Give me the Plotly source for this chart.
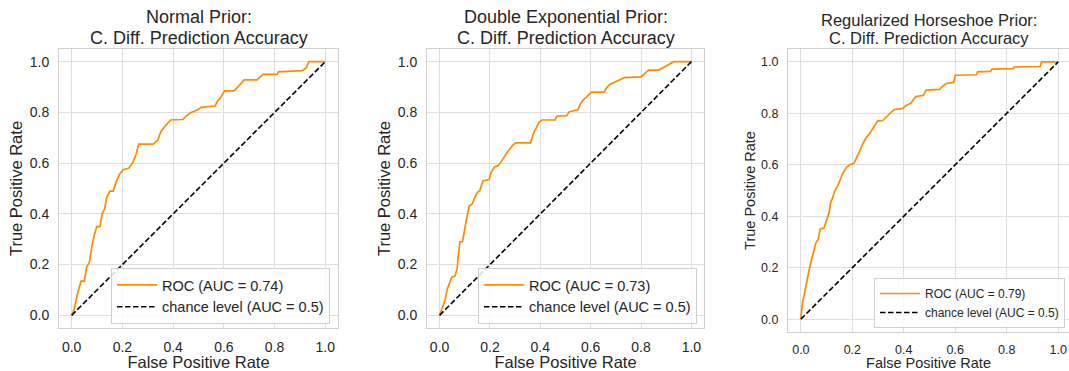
import plotly.graph_objects as go

# ---------------- data ----------------
fpr_normal = [0.0, 0.01, 0.024, 0.037, 0.05, 0.059, 0.07, 0.08, 0.09, 0.099, 0.112, 0.12, 0.13, 0.138,
              0.151, 0.164, 0.175, 0.188, 0.204, 0.225, 0.24, 0.254, 0.264, 0.322, 0.339, 0.352, 0.372,
              0.39, 0.438, 0.451, 0.471, 0.497, 0.51, 0.565, 0.575, 0.585, 0.603, 0.64, 0.655, 0.68,
              0.73, 0.755, 0.81, 0.815, 0.91, 0.925, 0.935, 1.0]
tpr_normal = [0.0, 0.025, 0.09, 0.135, 0.135, 0.19, 0.21, 0.275, 0.32, 0.35, 0.35, 0.40, 0.42, 0.465,
              0.49, 0.49, 0.525, 0.555, 0.575, 0.58, 0.60, 0.635, 0.675, 0.675, 0.69, 0.725, 0.75,
              0.77, 0.772, 0.785, 0.80, 0.81, 0.82, 0.825, 0.845, 0.855, 0.885, 0.885, 0.90, 0.928,
              0.928, 0.95, 0.95, 0.96, 0.965, 0.975, 1.0, 1.0]

fpr_dexp = [0.0, 0.009, 0.022, 0.031, 0.039, 0.048, 0.061, 0.07, 0.074, 0.081, 0.091, 0.098, 0.107,
            0.117, 0.13, 0.14, 0.15, 0.159, 0.172, 0.196, 0.205, 0.218, 0.232, 0.244, 0.257, 0.27,
            0.29, 0.302, 0.361, 0.367, 0.374, 0.387, 0.394, 0.407, 0.459, 0.465, 0.505, 0.515, 0.55,
            0.557, 0.57, 0.583, 0.603, 0.653, 0.662, 0.675, 0.695, 0.72, 0.734, 0.80, 0.807, 0.83,
            0.87, 0.886, 0.91, 0.93, 1.0]
tpr_dexp = [0.0, 0.025, 0.06, 0.105, 0.125, 0.15, 0.155, 0.185, 0.235, 0.29, 0.29, 0.335, 0.38,
            0.43, 0.44, 0.465, 0.485, 0.49, 0.53, 0.535, 0.565, 0.585, 0.59, 0.605, 0.625, 0.645,
            0.67, 0.68, 0.68, 0.70, 0.72, 0.745, 0.76, 0.77, 0.77, 0.785, 0.787, 0.803, 0.81,
            0.83, 0.85, 0.86, 0.88, 0.88, 0.895, 0.91, 0.92, 0.93, 0.937, 0.94, 0.947, 0.967,
            0.967, 0.976, 0.987, 1.0, 1.0]

fpr_hs = [0.0, 0.006, 0.013, 0.019, 0.026, 0.032, 0.041, 0.049, 0.058, 0.067, 0.075, 0.09, 0.1,
          0.11, 0.116, 0.123, 0.132, 0.142, 0.152, 0.162, 0.177, 0.19, 0.206, 0.214, 0.227, 0.24,
          0.253, 0.266, 0.279, 0.298, 0.318, 0.331, 0.35, 0.363, 0.395, 0.408, 0.428, 0.447, 0.476,
          0.487, 0.54, 0.548, 0.565, 0.594, 0.6, 0.682, 0.687, 0.737, 0.743, 0.826, 0.828, 0.93,
          0.935, 1.0]
tpr_hs = [0.0, 0.063, 0.095, 0.128, 0.16, 0.19, 0.23, 0.265, 0.295, 0.31, 0.35, 0.355, 0.39,
          0.415, 0.455, 0.47, 0.50, 0.515, 0.54, 0.565, 0.59, 0.60, 0.605, 0.625, 0.65, 0.68,
          0.705, 0.72, 0.74, 0.77, 0.772, 0.785, 0.80, 0.815, 0.818, 0.83, 0.84, 0.865, 0.87,
          0.89, 0.893, 0.903, 0.916, 0.92, 0.948, 0.95, 0.961, 0.963, 0.972, 0.974, 0.98, 0.982,
          1.0, 1.0]

chance = [0.0, 1.0]
auc_values = [0.74, 0.73, 0.79]
title_line1 = ["Normal Prior:", "Double Exponential Prior:", "Regularized Horseshoe Prior:"]
title_line2 = ["C. Diff. Prediction Accuracy"] * 3
tick_vals = [0.0, 0.2, 0.4, 0.6, 0.8, 1.0]
tick_text = ["0.0", "0.2", "0.4", "0.6", "0.8", "1.0"]

# ---------------- layout geometry ----------------
OFF = 0  # page margin is removed by the post script below
W, H = 1069 - OFF, 371 - OFF
FONT = "Liberation Sans, Arial, sans-serif"
TXT = "#262626"
GRID = "#dedede"
ORANGE = "#ff8c00"


def px(x):
    return (x - OFF) / W


def py(y):
    return 1 - (y - OFF) / H


panels = [
    dict(fpr=fpr_normal, tpr=tpr_normal, xdom=(59, 338), ydom=(49, 328), xr=[-0.05, 1.05],
         tick=14, lab=16.5, ttl=18, leg=14.5, legx=330, legy=324, t1=17, t2=38),
    dict(fpr=fpr_dexp, tpr=tpr_dexp, xdom=(427, 704), ydom=(49, 328), xr=[-0.05, 1.05],
         tick=14, lab=16.5, ttl=18, leg=14.5, legx=697, legy=324, t1=17, t2=38),
    dict(fpr=fpr_hs, tpr=tpr_hs, xdom=(788, 1069), ydom=(49, 332), xr=[-0.05, 1.042],
         tick=12.5, lab=14.5, ttl=16.5, leg=12, legx=1065, legy=328, t1=20, t2=38),
]

fig = go.Figure()
layout = dict(width=W, height=H, margin=dict(l=0, r=0, t=0, b=0, autoexpand=False),
              paper_bgcolor="white", plot_bgcolor="white",
              font=dict(family=FONT, color=TXT), showlegend=True, annotations=[])

for i, p in enumerate(panels):
    n = "" if i == 0 else str(i + 1)
    xa, ya = "x" + n, "y" + n
    lg = "legend" + n
    fig.add_trace(go.Scatter(x=p["fpr"], y=p["tpr"], mode="lines", xaxis=xa, yaxis=ya,
                             line=dict(color=ORANGE, width=1.7),
                             name=f"ROC (AUC = {auc_values[i]:.2f})", legend=lg))
    fig.add_trace(go.Scatter(x=chance, y=chance, mode="lines", xaxis=xa, yaxis=ya,
                             line=dict(color="black", width=1.6, dash="5.5px,2.5px"),
                             name="chance level (AUC = 0.5)", legend=lg))
    xd = [max(0.0, px(p["xdom"][0])), min(1.0, px(p["xdom"][1]))]
    yd = [py(p["ydom"][1]), py(p["ydom"][0])]
    common = dict(tickvals=tick_vals, ticktext=tick_text, showgrid=True, gridcolor=GRID,
                  gridwidth=1, zeroline=False, showline=True, linecolor="#d0d0d0", linewidth=1,
                  mirror=True, ticks="", tickfont=dict(size=p["tick"], color=TXT, family=FONT),
                  ticklabelstandoff=6, ticklabeloverflow="allow")
    layout["xaxis" + n] = dict(common, domain=xd, range=p["xr"], anchor=ya,
                               title=dict(text="False Positive Rate", standoff=4,
                                          font=dict(size=p["lab"], color=TXT, family=FONT)))
    layout["yaxis" + n] = dict(common, domain=yd, range=[-0.05, 1.05], anchor=xa,
                               title=dict(text="True Positive Rate", standoff=2,
                                          font=dict(size=p["lab"], color=TXT, family=FONT)))
    layout[lg] = dict(x=px(p["legx"]), y=py(p["legy"]), xanchor="right", yanchor="bottom",
                      xref="paper", yref="paper",
                      bgcolor="rgba(255,255,255,0.85)", bordercolor="#d0d0d0", borderwidth=1,
                      font=dict(size=p["leg"], color=TXT, family=FONT), itemwidth=40,
                      tracegroupgap=0)
    cx = (xd[0] + xd[1]) / 2
    for txt, yy in ((title_line1[i], p["t1"]), (title_line2[i], p["t2"])):
        layout["annotations"].append(dict(text=txt, xref="paper", yref="paper",
                                          x=cx, y=py(yy), xanchor="center", yanchor="middle",
                                          showarrow=False,
                                          font=dict(size=p["ttl"], color=TXT, family=FONT)))

fig.update_layout(**layout)
fig.write_html("out.html", config={"displayModeBar": False},
               post_script="document.body.style.margin='0';document.body.style.overflow='hidden';")
